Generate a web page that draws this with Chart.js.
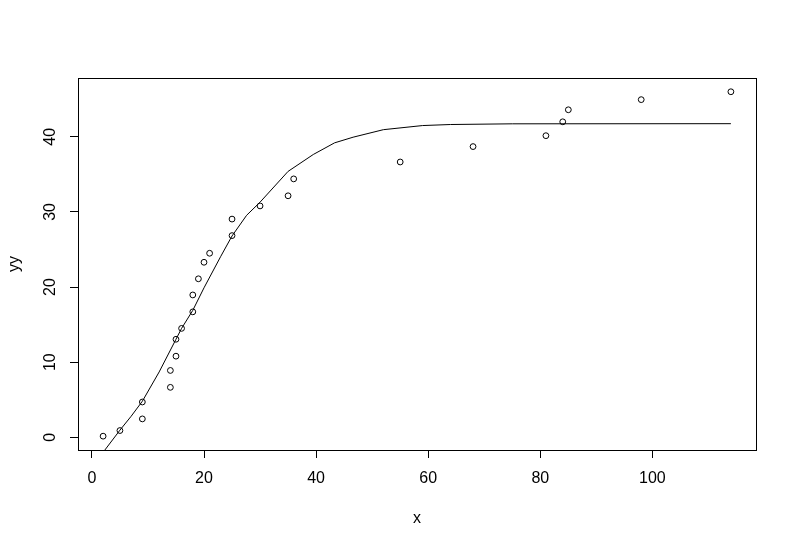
<!DOCTYPE html>
<html>
<head>
<meta charset="utf-8">
<script src="https://cdn.jsdelivr.net/npm/chart.js@4"></script>
<style>
  html, body { margin: 0; padding: 0; background: #fff; }
  canvas { display: block; }
</style>
</head>
<body>
<canvas id="plot" width="796" height="548"></canvas>
<script>
// observed points (x, yy)
const xs = [2, 5, 9, 9, 14, 14, 15, 15, 16, 18, 18, 19, 20, 21, 25, 25, 30, 35, 36, 55, 68, 81, 84, 85, 98, 114];
const yy = [0.15, 0.9, 4.7, 2.45, 8.9, 6.65, 10.8, 13.05, 14.5, 16.7, 18.95, 21.1, 23.3, 24.5, 26.85, 29.05, 30.8, 32.15, 34.4, 36.65, 38.7, 40.15, 42.0, 43.6, 44.95, 46.0];

// fitted curve
const fitX = [2, 5, 7, 9, 12, 15, 16, 18, 20, 23, 25, 27.6, 30, 35, 39.5, 43.3, 46.6, 52, 59, 64, 75, 114];
const fitY = [-2.0, 0.95, 2.8, 4.8, 8.7, 13.05, 14.5, 16.9, 19.9, 24.1, 26.8, 29.55, 31.3, 35.4, 37.65, 39.2, 39.95, 40.95, 41.5, 41.64, 41.73, 41.75];

const X_TICKS = [0, 20, 40, 60, 80, 100];
const Y_TICKS = [0, 10, 20, 30, 40];

const FONT = '"Liberation Sans", Arial, sans-serif';

const boxPlugin = {
  id: 'rbox',
  afterDraw(chart) {
    const { ctx, chartArea: a, scales } = chart;
    ctx.save();
    ctx.strokeStyle = '#000';
    ctx.lineWidth = 1;
    ctx.strokeRect(Math.round(a.left) + 0.5, Math.round(a.top) + 0.5,
      Math.round(a.right - a.left), Math.round(a.bottom - a.top));
    // y tick labels run parallel to the axis, as in R
    ctx.fillStyle = '#000';
    ctx.font = '16px ' + FONT;
    ctx.textAlign = 'center';
    ctx.textBaseline = 'middle';
    Y_TICKS.forEach(v => {
      const py = scales.y.getPixelForValue(v);
      ctx.save();
      ctx.translate(51, py);
      ctx.rotate(-Math.PI / 2);
      ctx.fillText(String(v), 0, 0);
      ctx.restore();
    });
    ctx.restore();
  }
};

new Chart(document.getElementById('plot'), {
  type: 'scatter',
  data: {
    datasets: [
      {
        label: 'yy',
        data: xs.map((x, i) => ({ x, y: yy[i] })),
        pointStyle: 'circle',
        pointRadius: 2.9,
        pointBorderWidth: 1,
        pointBorderColor: '#000',
        pointBackgroundColor: 'rgba(0,0,0,0)',
        showLine: false
      },
      {
        label: 'fit',
        type: 'line',
        data: fitX.map((x, i) => ({ x, y: fitY[i] })),
        borderColor: '#000',
        borderWidth: 1,
        pointRadius: 0,
        tension: 0,
        fill: false,
        clip: 0
      }
    ]
  },
  options: {
    responsive: false,
    devicePixelRatio: 1,
    animation: false,
    layout: { padding: { top: 78, right: 40, left: 0, bottom: 0 } },
    plugins: { legend: { display: false }, tooltip: { enabled: false } },
    scales: {
      x: {
        type: 'linear',
        min: -2.48,
        max: 118.48,
        afterBuildTicks: s => { s.ticks = X_TICKS.map(v => ({ value: v })); },
        afterFit: s => { s.height = 98; },
        grid: { drawOnChartArea: false, drawTicks: true, tickLength: 8, color: '#000', lineWidth: 1 },
        border: { display: false },
        ticks: { color: '#000', font: { family: FONT, size: 16 }, padding: 11, maxRotation: 0 },
        title: { display: true, text: 'x', color: '#000', font: { family: FONT, size: 16 }, padding: { top: 0, bottom: 20 } }
      },
      y: {
        type: 'linear',
        min: -1.69,
        max: 47.83,
        afterBuildTicks: s => { s.ticks = Y_TICKS.map(v => ({ value: v })); },
        afterFit: s => { s.width = 78; },
        grid: { drawOnChartArea: false, drawTicks: true, tickLength: 8, color: '#000', lineWidth: 1 },
        border: { display: false },
        ticks: { display: false },
        title: { display: true, text: 'yy', color: '#000', font: { family: FONT, size: 16 }, padding: { top: 5, bottom: 0 } }
      }
    }
  },
  plugins: [boxPlugin]
});
</script>
</body>
</html>
